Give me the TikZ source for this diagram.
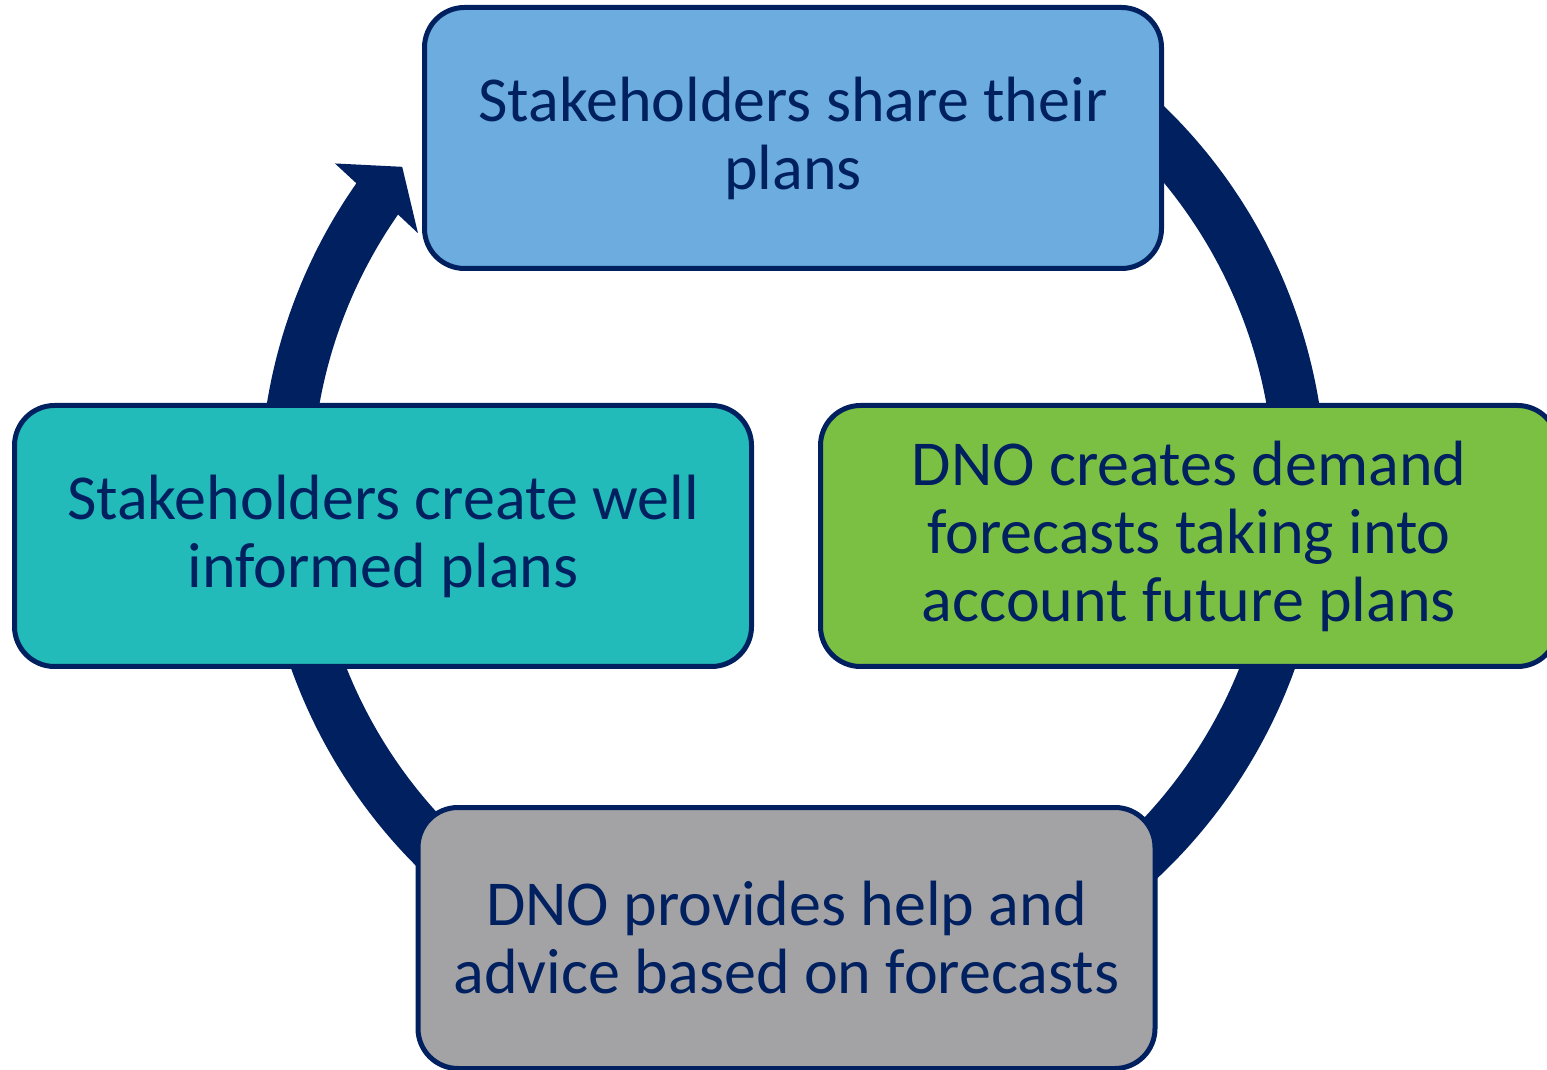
\documentclass[tikz,border=0pt]{standalone}
\usepackage{fontspec}
\setmainfont{Carlito}
\definecolor{navy}{HTML}{002060}
\definecolor{topblue}{HTML}{6CACDE}
\definecolor{teal}{HTML}{23BBB9}
\definecolor{leaf}{HTML}{7CC043}
\definecolor{stone}{HTML}{A3A3A6}
\tikzset{
  stagebox/.style={draw=navy, line width=5pt, rounded corners=40pt,
    minimum width=737pt, minimum height=261pt, align=center,
    text=navy, font=\fontsize{64}{68}\selectfont},
  ringfill/.style={fill=navy}
}
\begin{document}
\begin{tikzpicture}[x=1pt,y=1pt]
\useasboundingbox (0,0) rectangle (1547,1069);
\clip (0,0) rectangle (1547,1069);
\fill[white] (0,0) rectangle (1547,1069);
% circular arrow
\begin{scope}[shift={(793,580)}]
  \coordinate (ringstart) at (60:533);
  \fill[ringfill] (ringstart) arc[start angle=60, end angle=-215, radius=533]
    -- (144.6:562) -- (140.5:506.5) -- (145.7:454) -- (-214.8:481)
    arc[start angle=-214.8, end angle=60, radius=481] -- cycle;
\end{scope}
\node[stagebox, fill=topblue] (share) at (793,931) {Stakeholders share their\\plans};
\node[stagebox, fill=leaf] (forecast) at (1189,533) {DNO creates demand\\forecasts taking into\\account future plans};
\node[stagebox, fill=stone] (advice) at (786.5,131) {DNO provides help and\\advice based on forecasts};
\node[stagebox, fill=teal] (inform) at (383,533) {Stakeholders create well\\informed plans};
\end{tikzpicture}
\end{document}
